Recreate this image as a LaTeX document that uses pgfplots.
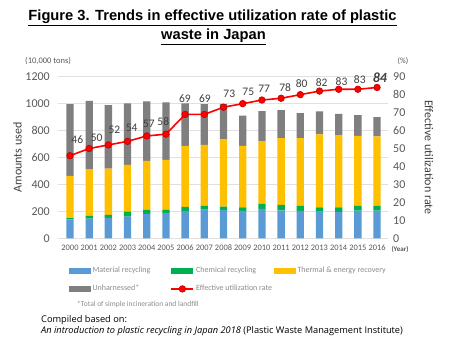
\documentclass[border=0pt]{standalone}
\usepackage{pgfplots}
\usepackage{pgfplotstable}
\pgfplotsset{compat=1.18}
\usepackage{fontspec}
\setmainfont{Carlito}
\newfontfamily\titlefont{Liberation Sans}
\newfontfamily\footfont{Open Sans}
\definecolor{cblue}{HTML}{5B9BD5}
\definecolor{cgreen}{HTML}{00B050}
\definecolor{cyellow}{HTML}{FFC000}
\definecolor{cgray}{HTML}{7F7F7F}
\definecolor{cred}{HTML}{FF0000}
\definecolor{cdred}{HTML}{C00000}
\definecolor{ticktext}{HTML}{595959}
\definecolor{labtext}{HTML}{404040}
\definecolor{legtext}{HTML}{8C8C8C}
\definecolor{gridc}{HTML}{E0E0E0}
\pgfplotsset{/pgf/number format/1000 sep={}}

\pgfplotstableread{
year mat chem therm unh rate
2000 141 8 314 533 46
2001 146 20 347 508 50
2002 151 22 345 471 52
2003 161 37 347 456 54
2004 181 30 364 441 57
2005 186 27 369 427 58
2006 201 32 453 316 69
2007 213 30 451 302 69
2008 211 24 501 262 73
2009 198 32 456 224 75
2010 218 37 466 223 77
2011 208 40 495 209 78
2012 203 37 503 186 80
2013 198 32 541 171 82
2014 196 34 536 158 83
2015 206 34 521 153 83
2016 206 34 516 144 84
}\datatable

\pgfplotstableread{
x y lab
2000.38 54.7 46
2001.39 55.7 50
2002.31 60.3 52
2003.21 61.3 54
2004.11 63.5 57
2004.86 64.9 58
2005.99 78.0 69
2007.03 78.0 69
2008.30 80.2 73
2009.29 81.7 75
2010.12 83.5 77
2011.21 84.1 78
2012.07 86.3 80
2013.11 86.7 82
2014.15 87.2 83
2015.10 88.5 83
}\labtable

\begin{document}
\begin{tikzpicture}
\path[use as bounding box, fill=white] (0pt,0pt) rectangle (450pt,350pt);

% Title
\node at (212.5pt,332pt) {\titlefont\bfseries\fontsize{14.7}{16}\selectfont \underline{Figure 3. Trends in effective utilization rate of plastic}};
\node at (213.5pt,313pt) {\titlefont\bfseries\fontsize{14.7}{16}\selectfont \underline{waste in Japan}};

% unit labels
\node[anchor=west, text=ticktext, inner sep=0pt] at (25pt,289pt) {\fontsize{8.5}{9}\selectfont (10,000 tons)};
\node[text=ticktext, inner sep=0pt] at (403pt,289pt) {\fontsize{8}{9}\selectfont (\%)};
\node[text=ticktext, inner sep=0pt] at (400pt,101pt) {\fontsize{7}{8}\selectfont\bfseries (Year)};

\begin{axis}[
  at={(58pt,111.7pt)}, anchor=south west,
  scale only axis, width=330pt, height=161.6pt,
  xmin=1999.375, xmax=2016.57,
  ymin=0, ymax=1200,
  ytick={0,200,...,1200},
  xtick={2000,...,2016},
  ybar stacked, bar width=7.3pt,
  axis line style={draw=none},
  major tick length=0pt,
  ymajorgrids, grid style={draw=gridc, line width=0.6pt},
  /pgf/number format/assume math mode=true,
  yticklabel style={font=\fontsize{12}{13}\selectfont, text=ticktext, inner sep=0pt, anchor=east, xshift=-8pt},
  xticklabel style={font=\fontsize{8.4}{9}\selectfont, text=ticktext, inner sep=0pt, anchor=north, yshift=-6.5pt},
  ylabel={Amounts used},
  every axis y label/.style={at={(axis description cs:-0.1227,0.5)}, rotate=90, anchor=center, font=\fontsize{12}{13}\selectfont, text=labtext},
]
\addplot[fill=cblue, draw=none] table[x=year, y=mat] {\datatable};
\addplot[fill=cgreen, draw=none] table[x=year, y=chem] {\datatable};
\addplot[fill=cyellow, draw=none] table[x=year, y=therm] {\datatable};
\addplot[fill=cgray, draw=none] table[x=year, y=unh] {\datatable};
\end{axis}

\begin{axis}[
  at={(58pt,111.7pt)}, anchor=south west,
  scale only axis, width=330pt, height=161.6pt,
  xmin=1999.375, xmax=2016.57,
  ymin=0, ymax=90,
  ytick={0,10,...,90},
  axis x line=none,
  axis y line*=right,
  y axis line style={draw=none},
  major tick length=0pt,
  clip=false,
  /pgf/number format/assume math mode=true,
  yticklabel style={font=\fontsize{12}{13}\selectfont, text=ticktext, inner sep=0pt, anchor=west, xshift=5pt},
  ylabel={Effective utilization rate},
  every axis y label/.style={at={(axis description cs:1.124,0.5)}, rotate=-90, anchor=center, font=\fontsize{12}{13}\selectfont, text=labtext},
  legend columns=3,
  legend cell align=left,
  legend style={at={(axis description cs:0.0333,-0.178)}, anchor=north west, draw=none, fill=none,
    font=\fontsize{8}{9}\selectfont, text=legtext, inner sep=0pt, row sep=11pt,
    nodes={inner sep=0pt},
    /tikz/every odd column/.style={column sep=2pt},
    /tikz/every even column/.style={column sep=0pt}},
]
\addlegendimage{legend image code/.code={\fill[cblue] (0pt,-2.5pt) rectangle (21pt,2.5pt);}}
\addlegendentry{\makebox[78pt][l]{Material recycling}}
\addlegendimage{legend image code/.code={\fill[cgreen] (0pt,-2.5pt) rectangle (21pt,2.5pt);}}
\addlegendentry{\makebox[78pt][l]{Chemical recycling}}
\addlegendimage{legend image code/.code={\fill[cyellow] (0pt,-2.5pt) rectangle (21pt,2.5pt);}}
\addlegendentry{\makebox[78pt][l]{Thermal \& energy recovery}}
\addlegendimage{legend image code/.code={\fill[cgray] (0pt,-2.5pt) rectangle (21pt,2.5pt);}}
\addlegendentry{\makebox[78pt][l]{Unharnessed*}}
\addplot[cred, line width=1.6pt, mark=*, mark size=3.3pt,
  mark options={fill=cred, draw=cdred, line width=0.6pt},
  legend image code/.code={\draw[mark repeat=2, mark phase=2] plot coordinates {(0pt,0pt) (11pt,0pt) (22pt,0pt)};}]
  table[x=year, y=rate] {\datatable};
\addlegendentry{\makebox[78pt][l]{Effective utilization rate}}

\addplot[draw=none, mark=none, forget plot, nodes near coords, point meta=explicit symbolic,
  nodes near coords style={anchor=center, inner sep=0pt, font=\fontsize{11.5}{12}\selectfont, text=labtext}]
  table[x=x, y=y, meta=lab] {\labtable};
\addplot[draw=none, mark=none, forget plot, nodes near coords, point meta=explicit symbolic,
  nodes near coords style={anchor=center, inner sep=0pt, font=\fontsize{14}{15}\selectfont\bfseries\itshape, text=labtext}]
  table[x=x, y=y, meta=lab] {
x y lab
2016.15 89.7 84
};
\end{axis}

% footnote
\node[anchor=west, text=legtext, inner sep=0pt] at (77pt,46pt) {\fontsize{7.5}{8}\selectfont *Total of simple incineration and landfill};
% source
\node[anchor=west, inner sep=0pt] at (41pt,30pt) {\footfont\fontsize{9.25}{10}\selectfont Compiled based on:};
\node[anchor=west, inner sep=0pt] at (41pt,19pt) {\footfont\fontsize{9.25}{10}\selectfont \textit{An introduction to plastic recycling in Japan 2018} (Plastic Waste Management Institute)};
\end{tikzpicture}
\end{document}
